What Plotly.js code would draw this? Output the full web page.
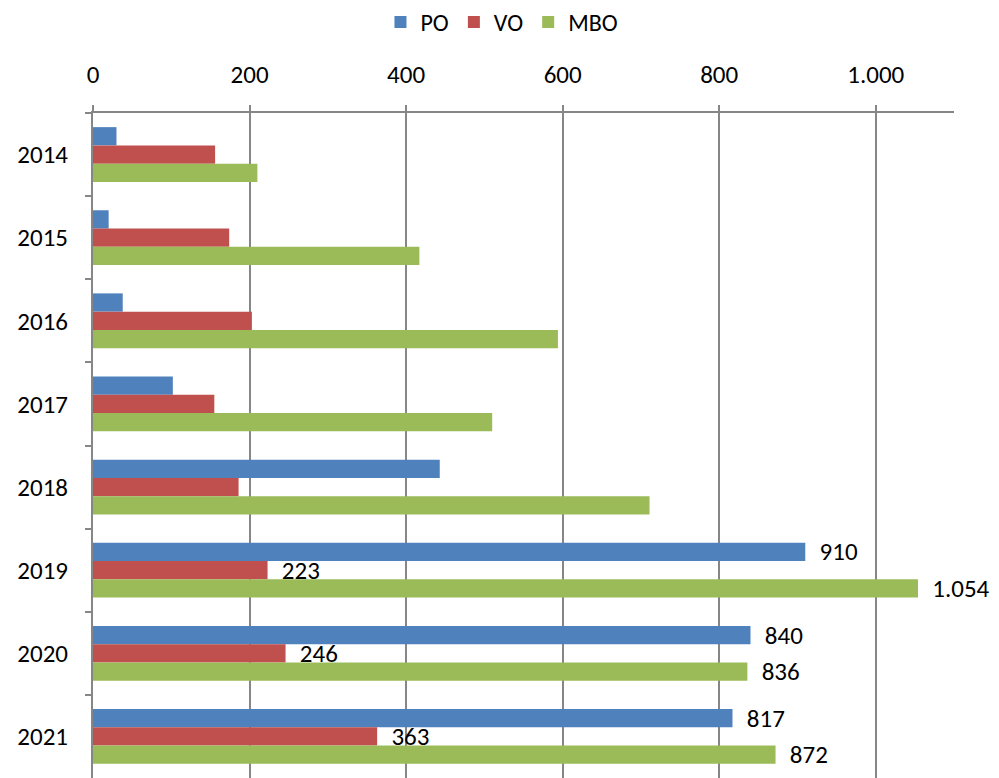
<!DOCTYPE html>
<html><head><meta charset="utf-8">
<script src="https://cdn.plot.ly/plotly-3.0.1.min.js"></script>
<style>html,body{margin:0;padding:0;background:#fff}#chart{width:999px;height:778px}</style>
</head><body><div id="chart"></div>
<script>
const years = ['2014','2015','2016','2017','2018','2019','2020','2021'];
const po  = [30, 20, 38, 102, 443, 910, 840, 817];
const vo  = [156, 174, 203, 155, 186, 223, 246, 363];
const mbo = [210, 417, 594, 510, 711, 1054, 836, 872];
const labelledYears = ['2019','2020','2021'];
const seriesNames = ['PO','VO','MBO'];
const colors = ['#4F81BD','#C0504D','#9BBB59'];

function fmt(v){ return String(v).replace(/\B(?=(\d{3})+(?!\d))/g,'.'); }
const FONT = 'Carlito, "Open Sans", "Noto Sans", sans-serif';

const traces = [po, vo, mbo].map((vals, i) => ({
  type: 'bar', orientation: 'h', name: seriesNames[i],
  y: years, x: vals,
  marker: {color: colors[i]},
  text: vals.map((v, j) => labelledYears.includes(years[j]) ? '\u00a0\u00a0' + fmt(v) : ''),
  textposition: 'outside', cliponaxis: false, constraintext: 'none',
  textfont: {family: FONT, size: 25, color: '#000'},
  hoverinfo: 'x+y+name'
}));

const layout = {
  width: 999, height: 778,
  margin: {l: 93, r: 45, t: 113, b: 0},
  paper_bgcolor: '#fff', plot_bgcolor: '#fff',
  font: {family: FONT, size: 25, color: '#000'},
  separators: ',.',
  barmode: 'group', bargap: 0.34, bargroupgap: 0,
  showlegend: true,
  legend: {orientation: 'h', x: 0.475, xanchor: 'center', y: 1.0, yref: 'container', yanchor: 'top',
           font: {family: FONT, size: 24}, traceorder: 'normal'},
  xaxis: {
    side: 'top', range: [0, 1100], dtick: 200, tick0: 0,
    tickformat: ',d', separatethousands: true,
    showgrid: true, gridcolor: '#868686', gridwidth: 2,
    showline: true, linecolor: '#868686', linewidth: 2,
    ticks: 'outside', ticklen: 6, tickcolor: '#868686', tickwidth: 2,
    ticklabelstandoff: 12, zeroline: false,
    tickfont: {family: FONT, size: 25}
  },
  yaxis: {
    autorange: 'reversed', type: 'category',
    showline: true, linecolor: '#868686', linewidth: 2,
    ticks: 'outside', tickson: 'boundaries', ticklen: 6, tickcolor: '#868686', tickwidth: 2,
    ticklabelstandoff: 18, showgrid: false, zeroline: false,
    tickfont: {family: FONT, size: 25}
  }
};
Plotly.newPlot('chart', traces, layout, {staticPlot: true, displayModeBar: false});
</script></body></html>
